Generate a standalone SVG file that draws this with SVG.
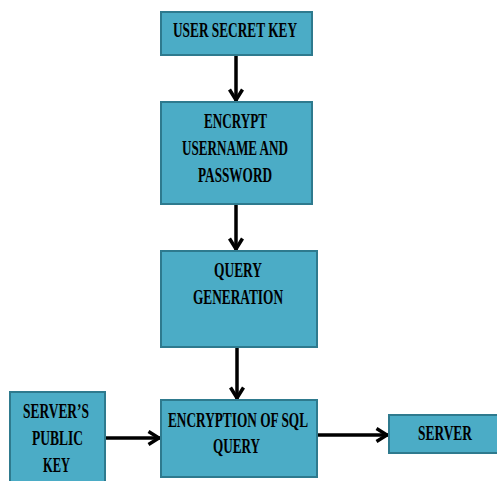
<svg xmlns="http://www.w3.org/2000/svg" width="497" height="481" viewBox="0 0 497 481">
<style>
.box{fill:#4BACC6;stroke:#2E7A8E;stroke-width:2}
.t{font-family:"Liberation Serif","Times New Roman",serif;font-weight:bold;font-size:20px;fill:#000;}
.c{fill:none;stroke:#000;stroke-width:3.5}
</style>
<defs>
<marker id="ah" viewBox="0 0 14 16" refX="13" refY="8" markerWidth="14" markerHeight="16" markerUnits="userSpaceOnUse" orient="auto">
<path d="M1.5,1.5 L12,8 L1.5,14.5" fill="none" stroke="#000" stroke-width="3.5"/>
</marker>
</defs>
<rect width="497" height="481" fill="#fff"/>
<g id="connectors">
<line class="c" x1="236" y1="55" x2="236" y2="101" marker-end="url(#ah)"/>
<line class="c" x1="236" y1="204" x2="236" y2="250" marker-end="url(#ah)"/>
<line class="c" x1="237" y1="347" x2="237" y2="399" marker-end="url(#ah)"/>
<line class="c" x1="105" y1="438" x2="160" y2="438" marker-end="url(#ah)"/>
<line class="c" x1="317" y1="435" x2="388" y2="435" marker-end="url(#ah)"/>
</g>
<g id="user-secret-key">
<rect class="box" x="161" y="12" width="151" height="43"/>
<text class="t" x="173" y="37" textLength="124" lengthAdjust="spacingAndGlyphs">USER SECRET KEY</text>
</g>
<g id="encrypt-credentials">
<rect class="box" x="161" y="102" width="151" height="102"/>
<text class="t" x="204" y="128" textLength="63" lengthAdjust="spacingAndGlyphs">ENCRYPT</text>
<text class="t" x="182" y="155" textLength="106" lengthAdjust="spacingAndGlyphs">USERNAME AND</text>
<text class="t" x="198" y="182" textLength="74" lengthAdjust="spacingAndGlyphs">PASSWORD</text>
</g>
<g id="query-generation">
<rect class="box" x="161" y="251" width="156" height="96"/>
<text class="t" x="214" y="277" textLength="48" lengthAdjust="spacingAndGlyphs">QUERY</text>
<text class="t" x="193" y="304" textLength="90" lengthAdjust="spacingAndGlyphs">GENERATION</text>
</g>
<g id="encryption-sql">
<rect class="box" x="161" y="400" width="156" height="77"/>
<text class="t" x="168" y="427" textLength="140" lengthAdjust="spacingAndGlyphs">ENCRYPTION OF SQL</text>
<text class="t" x="213" y="453" textLength="47" lengthAdjust="spacingAndGlyphs">QUERY</text>
</g>
<g id="servers-public-key">
<rect class="box" x="10" y="392" width="95" height="95"/>
<text class="t" x="23" y="418" textLength="66" lengthAdjust="spacingAndGlyphs">SERVER’S</text>
<text class="t" x="32" y="445" textLength="51" lengthAdjust="spacingAndGlyphs">PUBLIC</text>
<text class="t" x="43" y="472" textLength="27" lengthAdjust="spacingAndGlyphs">KEY</text>
</g>
<g id="server">
<rect class="box" x="389" y="415" width="115" height="38"/>
<text class="t" x="418" y="440" textLength="54" lengthAdjust="spacingAndGlyphs">SERVER</text>
</g>
</svg>
